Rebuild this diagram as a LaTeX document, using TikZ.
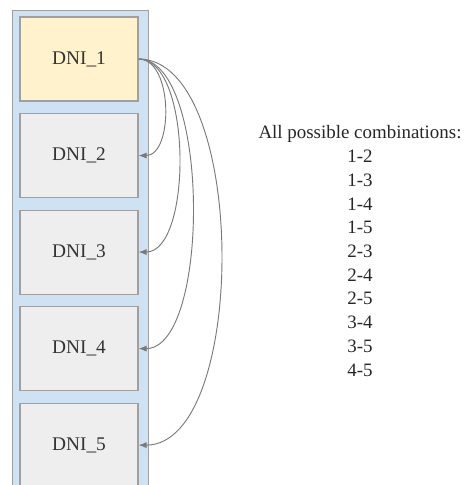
\documentclass[tikz,border=0pt]{standalone}
\usepackage{fontspec}
\setmainfont{Liberation Serif}
\newfontfamily\dnifont{Liberation Serif}
\usetikzlibrary{positioning,arrows.meta}
\definecolor{colblue}{HTML}{CFE2F3}
\definecolor{boxgray}{HTML}{EEEEEE}
\definecolor{boxyellow}{HTML}{FFF2CC}
\definecolor{edgegray}{HTML}{A0A0A0}
\definecolor{linkgray}{HTML}{7A7A7A}
\def\gap{8.6pt}
\tikzset{dni/.style={minimum width=88.5pt,minimum height=63pt,draw=edgegray,fill=boxgray,line width=0.8pt,font=\dnifont\fontsize{14.5}{17}\selectfont,text=black!80}}
\tikzset{link/.style={draw=linkgray,line width=0.7pt,-{Latex[length=6pt,width=4.5pt]}}}

\begin{document}
\begin{tikzpicture}[x=0.75pt,y=-0.75pt]
  \useasboundingbox (0,0) rectangle (464,485);
  \clip (0,0) rectangle (464,485);
  % container column
  \node[draw=edgegray,fill=colblue,line width=0.8pt,minimum width=102pt,minimum height=375pt,anchor=north west] (column) at (12,10) {};
  \node[dni,fill=boxyellow] (dni1) at (79,59) {DNI\_1};
  \node[dni] (dni2) [below=\gap of dni1] {DNI\_2};
  \node[dni] (dni3) [below=\gap of dni2] {DNI\_3};
  \node[dni] (dni4) [below=\gap of dni3] {DNI\_4};
  \node[dni] (dni5) [below=\gap of dni4] {DNI\_5};
  % links from the first node
  \draw[link] (dni1.east) .. controls +(35,0) and +(35,0) .. (dni2.east);
  \draw[link] (dni1.east) .. controls +(54,0) and +(54,0) .. (dni3.east);
  \draw[link] (dni1.east) .. controls +(72,0) and +(72,0) .. (dni4.east);
  \draw[link] (dni1.east) .. controls +(110,0) and +(110,0) .. (dni5.east);
  \node[align=center,font=\dnifont\fontsize{14.2}{17.8}\selectfont,text=black!85] (combos) at (360,251)
    {All possible combinations:\\1-2\\1-3\\1-4\\1-5\\2-3\\2-4\\2-5\\3-4\\3-5\\4-5};
\end{tikzpicture}
\end{document}
